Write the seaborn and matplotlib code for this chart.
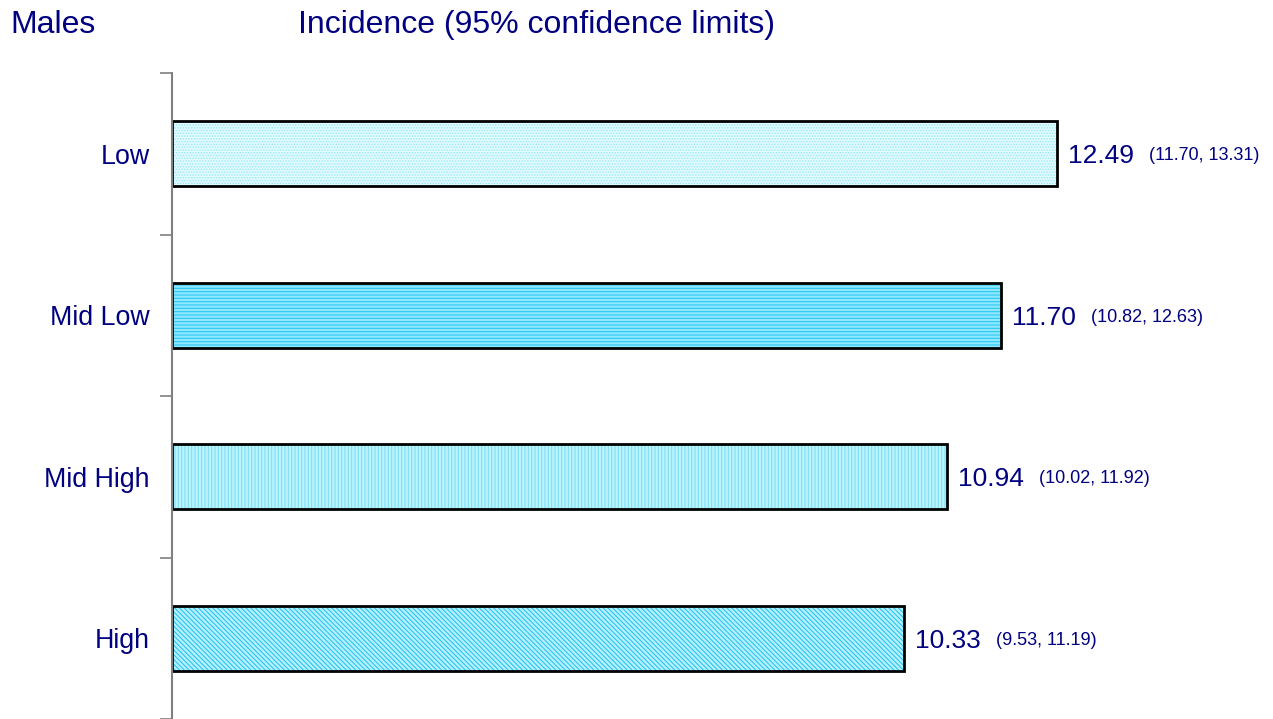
import matplotlib
matplotlib.use("Agg")
import matplotlib.pyplot as plt
import seaborn as sns
import pandas as pd

# data
categories = ["Low", "Mid Low", "Mid High", "High"]
incidence = [12.49, 11.70, 10.94, 10.33]
ci_low = [11.70, 10.82, 10.02, 9.53]
ci_high = [13.31, 12.63, 11.92, 11.19]

face_colors = ["#E2FCFF", "#8EE8FF", "#BDF5FF", "#B5F1FF"]
hatch_colors = ["#9EE8F8", "#2EC8F2", "#7EDCF5", "#2CC4F0"]
hatches = ["......", "-----", "|||||", "\\\\\\\\\\\\\\"]

NAVY = "#000080"

sns.set_style("white")
plt.rcParams["font.family"] = ["Liberation Sans", "DejaVu Sans"]
plt.rcParams["hatch.linewidth"] = 0.8

df = pd.DataFrame({"category": categories, "incidence": incidence})

fig = plt.figure(figsize=(12.73, 7.19), dpi=100)
ax = fig.add_axes([172 / 1273, 0.0, 1 - 172 / 1273, (719 - 73) / 719])

# hatched fill
sns.barplot(data=df, y="category", x="incidence", order=categories,
            orient="h", width=0.4, ax=ax, linewidth=0, errorbar=None)
for patch, fc, hc, h in zip(ax.patches, face_colors, hatch_colors, hatches):
    patch.set_facecolor(fc)
    patch.set_edgecolor(hc)
    patch.set_hatch(h)
    patch.set_linewidth(0)

# black outlines on top
n_fill = len(ax.patches)
sns.barplot(data=df, y="category", x="incidence", order=categories,
            orient="h", width=0.4, ax=ax, fill=False, color="black",
            linewidth=2, errorbar=None)
for patch in ax.patches[n_fill:]:
    patch.set_facecolor("none")
    patch.set_edgecolor("black")
    patch.set_linewidth(2)

ax.set_xlim(0, 1101 / 70.86)
ax.set_ylim(3.5, -0.5)
ax.set_xlabel("")
ax.set_ylabel("")
ax.set_xticks([])

for side in ["top", "right", "bottom"]:
    ax.spines[side].set_visible(False)
ax.spines["left"].set_color("#808080")
ax.spines["left"].set_linewidth(1.5)

ax.set_yticks(range(len(categories)))
ax.set_yticklabels(categories, fontsize=19.3, color=NAVY)
ax.tick_params(axis="y", which="major", length=0, pad=16)
ax.set_yticks([-0.5, 0.5, 1.5, 2.5, 3.5], minor=True)
ax.tick_params(axis="y", which="minor", length=9, width=1.2, color="#808080",
               left=True, direction="out")

# value labels
for i, (v, lo, hi) in enumerate(zip(incidence, ci_low, ci_high)):
    t = ax.annotate(f"{v:.2f}", xy=(v, i), xytext=(8, 0),
                    textcoords="offset points", va="center_baseline",
                    ha="left", fontsize=19, color=NAVY)
    ax.annotate(f"({lo:.2f}, {hi:.2f})", xy=(1, 0.52), xycoords=t,
                xytext=(11, 0), textcoords="offset points",
                va="center", ha="left", fontsize=13, color=NAVY)

fig.text(10 / 1273, 1 - 25 / 719, "Males", fontsize=23, color=NAVY,
         va="center", ha="left")
fig.text(298 / 1273, 1 - 25 / 719, "Incidence (95% confidence limits)",
         fontsize=23, color=NAVY, va="center", ha="left")

fig.savefig("out.png", dpi=100)
